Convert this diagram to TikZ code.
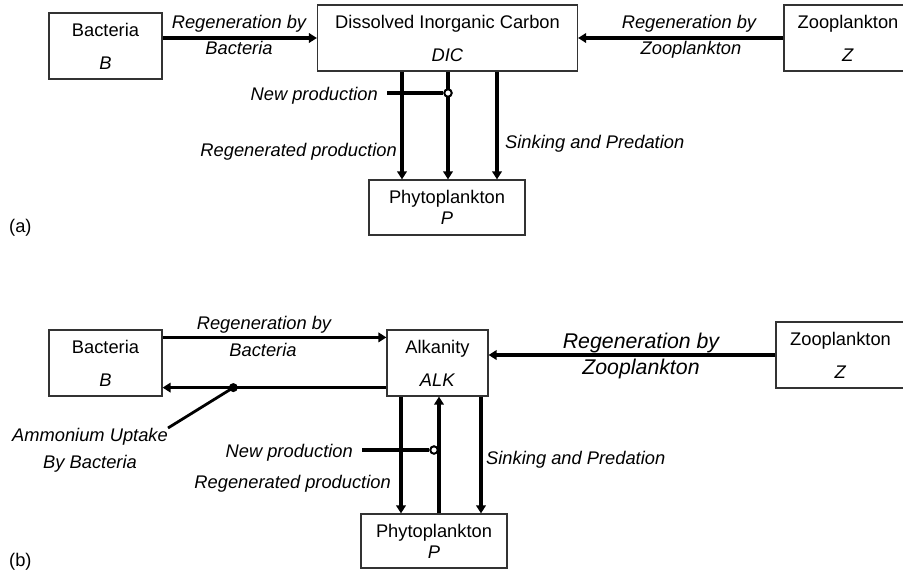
\documentclass[tikz,border=0pt]{standalone}
\usepackage{fontspec}
\setmainfont{Liberation Sans}
\usetikzlibrary{arrows.meta,positioning}
\tikzset{pool/.style={draw=black!80, line width=1.2pt, align=center, inner sep=0pt, font=\fontsize{18.3}{22}\selectfont}}
\tikzset{lbl/.style={inner sep=0pt, font=\fontsize{18.3}{22}\selectfont\itshape}}
\tikzset{biglbl/.style={inner sep=0pt, font=\fontsize{21.3}{25}\selectfont\itshape}}
\tikzset{flow/.style={draw, line width=3.3pt, -{Triangle[length=8pt,width=9.5pt]}}}
\tikzset{bar/.style={draw, line width=3.3pt}}
\tikzset{ring/.style={circle, draw, fill=white, line width=2pt, minimum size=7.5pt, inner sep=0pt}}
\tikzset{blob/.style={circle, fill=black, minimum size=9pt, inner sep=0pt}}

\begin{document}
\begin{tikzpicture}[x=1pt,y=-1pt]
    \useasboundingbox (0,0) rectangle (903,571);
    \clip (0,0) rectangle (903,571);

    % (a) carbon
    \node[pool, minimum width=113pt, minimum height=66pt] (bacA) at (105.5,46) {Bacteria\\[11pt]\textit{B}};
    \node[pool, minimum width=260pt, minimum height=66pt] (dicA) at (447.5,38) {Dissolved Inorganic Carbon\\[11pt]\textit{DIC}};
    \node[pool, minimum width=128pt, minimum height=66pt] (zooA) at (848,38) {Zooplankton\\[11pt]\textit{Z}};
    \node[pool, minimum width=156pt, minimum height=55pt] (phyA) at (447,207.5) {Phytoplankton\\[-1pt]\textit{P}};

    \node[lbl, anchor=base] at (239,28.5) {Regeneration by};
    \node[lbl, anchor=base] at (239,54.5) {Bacteria};
    \node[lbl, anchor=base] at (689,28.5) {Regeneration by};
    \node[lbl, anchor=base] at (691,54.5) {Zooplankton};
    \node[lbl, anchor=base east] (newA) at (378,100) {New production};
    \node[lbl, anchor=base east] at (397,156) {Regenerated production};
    \node[lbl, anchor=base west] at (505,148) {Sinking and Predation};
    \node[inner sep=0pt, anchor=base west, font=\fontsize{18.3}{22}\selectfont] at (9,232) {(a)};

    \draw[flow] (bacA.east |- dicA.west) -- (dicA.west);
    \draw[flow] (zooA.west) -- (dicA.east);
    \draw[flow] (402,0 |- dicA.south) -- (402,0 |- phyA.north);
    \draw[flow] (448,0 |- dicA.south) -- (448,0 |- phyA.north);
    \draw[flow] (497,0 |- dicA.south) -- (497,0 |- phyA.north);

    \coordinate (npA) at (387,93);
    \node[ring] (ringA) at (448,93) {};
    \draw[bar] (npA) -- (ringA.west);

    % (b) alkalinity
    \node[pool, minimum width=113pt, minimum height=66pt] (bacB) at (105.5,363) {Bacteria\\[11pt]\textit{B}};
    \node[pool, minimum width=101pt, minimum height=66pt] (alk) at (437.5,363) {Alkanity\\[11pt]\textit{ALK}};
    \node[pool, minimum width=129pt, minimum height=66pt] (zooB) at (840.5,355) {Zooplankton\\[11pt]\textit{Z}};
    \node[pool, minimum width=146pt, minimum height=54pt] (phyB) at (434,541) {Phytoplankton\\[-1pt]\textit{P}};

    \node[lbl, anchor=base] at (264,329) {Regeneration by};
    \node[lbl, anchor=base] at (263,356) {Bacteria};
    \node[biglbl, anchor=base] at (641,348) {Regeneration by};
    \node[biglbl, anchor=base] at (641,374) {Zooplankton};
    \node[lbl, align=center, anchor=north east] (ammLbl) at (168,428) {Ammonium Uptake\\[5pt]By Bacteria};
    \node[lbl, anchor=base east] (newB) at (353,457) {New production};
    \node[lbl, anchor=base east] at (391,488) {Regenerated production};
    \node[lbl, anchor=base west] at (486,464) {Sinking and Predation};
    \node[inner sep=0pt, anchor=base west, font=\fontsize{18.3}{22}\selectfont] at (9,566) {(b)};

    \draw[flow] ([yshift=-8pt]bacB.north east) -- ([yshift=-8pt]alk.north west);
    \draw[flow] ([yshift=9pt]alk.south west) -- ([yshift=9pt]bacB.south east)
        node[blob, pos=0.684] (ammDot) {};
    \draw[line width=2.8pt] (ammDot.center) -- (ammLbl.north east);
    \draw[flow] (zooB.west) -- (zooB.west -| alk.east);
    \draw[flow] (401,0 |- alk.south) -- (401,0 |- phyB.north);
    \draw[flow] (439,0 |- phyB.north) -- (439,0 |- alk.south);
    \draw[flow] (481,0 |- alk.south) -- (481,0 |- phyB.north);

    \coordinate (npB) at (362,450);
    \node[ring] (ringB) at (434,450) {};
    \draw[bar] (npB) -- (ringB.west);
\end{tikzpicture}
\end{document}
